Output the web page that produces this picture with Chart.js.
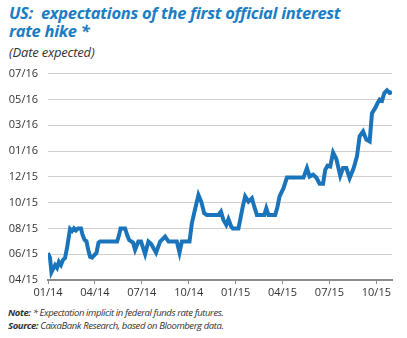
<!DOCTYPE html>
<html>
<head>
<meta charset="utf-8">
<script src="https://cdn.jsdelivr.net/npm/chart.js@4"></script>
<style>
  body { margin: 0; background: #fff; width: 407px; height: 338px; overflow: hidden; position: relative; font-family: "Open Sans", sans-serif; }
  .title { position: absolute; left: 9px; top: 4px; color: #1b7dc4; font-weight: bold; font-style: italic; font-size: 16.5px; line-height: 18px; letter-spacing: -0.3px; }
  .sub { position: absolute; left: 9px; top: 43px; color: #333; font-style: italic; font-size: 13px; letter-spacing: -0.2px; }
  .notes { position: absolute; left: 8px; top: 306px; color: #333; font-style: italic; font-size: 9.5px; line-height: 13px; letter-spacing: -0.4px; }
  #wrap { position: absolute; left: 0; top: 57px; width: 400px; height: 247px; }
</style>
</head>
<body>
<div class="title">US:&nbsp; expectations of the first official interest<br>rate hike *</div>
<div class="sub">(Date expected)</div>
<div id="wrap"><canvas id="hike"></canvas></div>
<div class="notes"><b>Note:</b> * Expectation implicit in federal funds rate futures.<br><b>Source:</b> CaixaBank Research, based on Bloomberg data.</div>
<script>
// x: months since Jan 2014, y: index of the expected-date tick (0 = 04/15 ... 8 = 07/16)
const months = [0.0,0.13,0.22,0.45,0.58,0.7,0.83,0.96,1.09,1.22,1.31,1.41,1.54,1.66,1.79,1.92,2.11,2.21,2.34,2.46,2.56,2.69,2.82,2.94,3.1,3.23,3.33,
  4.42,4.55,4.64,4.93,5.06,5.19,5.31,5.44,5.57,5.78,5.95,6.21,6.42,6.59,6.91,7.17,7.49,7.71,8.24,8.41,8.56,9.05,9.2,9.37,9.62,9.8,9.99,10.16,
  10.9,11.06,11.22,11.4,11.54,11.72,11.82,12.18,12.29,12.46,12.61,12.82,13.04,13.19,13.36,13.83,13.96,14.1,14.53,14.68,14.81,15.06,15.28,
  16.34,16.56,16.73,16.95,17.16,17.37,17.59,17.73,17.88,18.05,18.23,18.44,18.69,18.87,19.08,19.29,19.55,19.76,19.93,20.15,20.36,20.57,
  20.72,20.93,21.08,21.21,21.36,21.51,21.68,21.85,22.0];
const expected = [1.05,0.85,0.3,0.58,0.47,0.7,0.58,0.78,0.85,1.25,1.6,1.98,1.9,2.0,1.92,2.0,2.0,1.75,1.55,1.5,1.2,0.9,0.87,0.95,1.05,1.45,1.49,
  1.49,1.75,2.0,2.0,1.75,1.55,1.5,1.45,1.17,1.49,1.49,1.0,1.49,1.4,1.06,1.49,1.68,1.49,1.49,1.06,1.49,1.49,2.2,2.65,3.3,3.04,2.59,2.52,
  2.52,2.65,2.33,2.14,2.36,2.07,2.0,2.0,2.33,2.85,3.24,3.04,3.17,2.85,2.52,2.52,2.78,2.52,2.52,2.85,3.24,3.56,3.97,
  3.97,4.34,4.01,4.08,3.97,3.73,3.73,4.27,4.43,4.4,4.94,4.69,4.04,4.34,4.34,3.95,4.34,4.79,5.57,5.76,5.44,5.37,
  6.47,6.67,6.86,6.99,6.95,7.25,7.35,7.25,7.28];
const yLabels = ["04/15","06/15","08/15","10/15","12/15","01/16","03/16","05/16","07/16"];
const xTickPos = [0,3,6,9,12,15,18,21];
const xLabels = ["01/14","04/14","07/14","10/14","01/15","04/15","07/15","10/15"];

const points = months.map((m, i) => ({ x: m, y: expected[i] }));

new Chart(document.getElementById("hike"), {
  type: "line",
  data: {
    datasets: [{
      data: points,
      borderColor: "#1a74bb",
      borderWidth: 4,
      pointRadius: 0,
      tension: 0,
      fill: false,
    }],
  },
  options: {
    animation: false,
    responsive: true,
    maintainAspectRatio: false,
    layout: { padding: { top: 4, right: 8, left: 0, bottom: 0 } },
    plugins: { legend: { display: false }, tooltip: { enabled: false } },
    scales: {
      x: {
        type: "linear",
        min: 0,
        max: 22,
        afterBuildTicks: (s) => { s.ticks = xTickPos.map(v => ({ value: v })); },
        afterFit: (s) => { s.height = 24; },
        ticks: {
          color: "#333",
          font: { family: "Open Sans", size: 11 },
          padding: 2,
          maxRotation: 0,
          callback: (v) => xLabels[xTickPos.indexOf(v)],
        },
        grid: { drawOnChartArea: false, drawTicks: true, tickLength: 4, color: "#8c8c8c", lineWidth: 1 },
        border: { color: "#8c8c8c", width: 2 },
      },
      y: {
        min: 0,
        max: 8,
        afterBuildTicks: (s) => { s.ticks = yLabels.map((l, i) => ({ value: i })); },
        afterFit: (s) => { s.width = 48; },
        ticks: {
          color: "#333",
          font: { family: "Open Sans", size: 11 },
          padding: 10,
          callback: (v) => yLabels[v],
        },
        grid: { color: "#cfcfcf", lineWidth: 1, drawTicks: false },
        border: { display: false },
      },
    },
  },
});
</script>
</body>
</html>
